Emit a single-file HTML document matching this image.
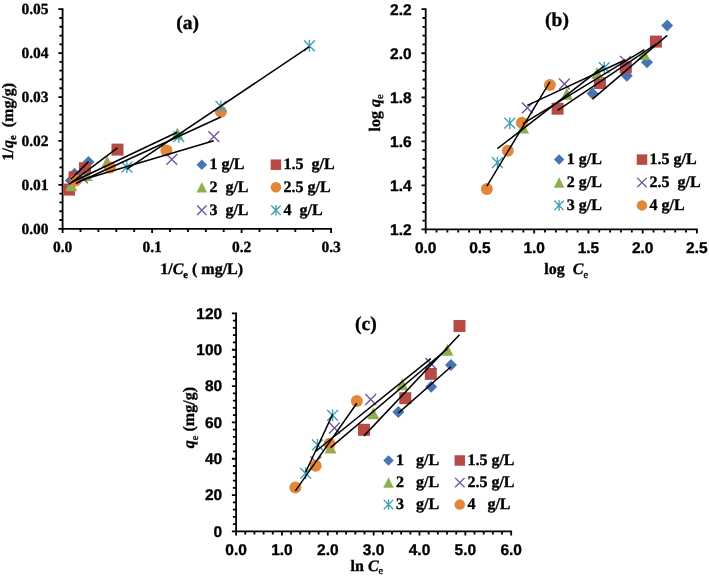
<!DOCTYPE html>
<html><head><meta charset="utf-8"><title>Isotherm plots</title>
<style>
html,body{margin:0;padding:0;background:#fff;}
body{width:709px;height:578px;overflow:hidden;}
svg{display:block;will-change:transform;text-rendering:geometricPrecision;}
</style></head>
<body>
<svg width="709" height="578" viewBox="0 0 709 578">
<rect width="709" height="578" fill="#fff"/>
<path d="M62.6 9.2V228.8M59.3 228.8H62.6M60.3 220.02H62.6M60.3 211.23H62.6M60.3 202.45H62.6M60.3 193.66H62.6M59.3 184.88H62.6M60.3 176.1H62.6M60.3 167.31H62.6M60.3 158.53H62.6M60.3 149.74H62.6M59.3 140.96H62.6M60.3 132.18H62.6M60.3 123.39H62.6M60.3 114.61H62.6M60.3 105.82H62.6M59.3 97.04H62.6M60.3 88.26H62.6M60.3 79.47H62.6M60.3 70.69H62.6M60.3 61.9H62.6M59.3 53.12H62.6M60.3 44.34H62.6M60.3 35.55H62.6M60.3 26.77H62.6M60.3 17.98H62.6M59.3 9.2H62.6M62.6 228.8H331.1M62.6 228.8V232.1M80.5 228.8V231.1M98.4 228.8V231.1M116.3 228.8V231.1M134.2 228.8V231.1M152.1 228.8V232.1M170 228.8V231.1M187.9 228.8V231.1M205.8 228.8V231.1M223.7 228.8V231.1M241.6 228.8V232.1M259.5 228.8V231.1M277.4 228.8V231.1M295.3 228.8V231.1M313.2 228.8V231.1M331.1 228.8V232.1" stroke="#000" stroke-width="1.8" fill="none" stroke-linecap="square"/>
<text x="48.6" y="234" font-family='"Liberation Serif", serif' font-size="15.5" font-weight="bold" text-anchor="end" stroke="#000" stroke-width="0.35" >0.00</text>
<text x="48.6" y="190.08" font-family='"Liberation Serif", serif' font-size="15.5" font-weight="bold" text-anchor="end" stroke="#000" stroke-width="0.35" >0.01</text>
<text x="48.6" y="146.16" font-family='"Liberation Serif", serif' font-size="15.5" font-weight="bold" text-anchor="end" stroke="#000" stroke-width="0.35" >0.02</text>
<text x="48.6" y="102.24" font-family='"Liberation Serif", serif' font-size="15.5" font-weight="bold" text-anchor="end" stroke="#000" stroke-width="0.35" >0.03</text>
<text x="48.6" y="58.32" font-family='"Liberation Serif", serif' font-size="15.5" font-weight="bold" text-anchor="end" stroke="#000" stroke-width="0.35" >0.04</text>
<text x="48.6" y="14.4" font-family='"Liberation Serif", serif' font-size="15.5" font-weight="bold" text-anchor="end" stroke="#000" stroke-width="0.35" >0.05</text>
<text x="62.6" y="252" font-family='"Liberation Serif", serif' font-size="15.5" font-weight="bold" text-anchor="middle" stroke="#000" stroke-width="0.35" >0.0</text>
<text x="152.1" y="252" font-family='"Liberation Serif", serif' font-size="15.5" font-weight="bold" text-anchor="middle" stroke="#000" stroke-width="0.35" >0.1</text>
<text x="241.6" y="252" font-family='"Liberation Serif", serif' font-size="15.5" font-weight="bold" text-anchor="middle" stroke="#000" stroke-width="0.35" >0.2</text>
<text x="331.1" y="252" font-family='"Liberation Serif", serif' font-size="15.5" font-weight="bold" text-anchor="middle" stroke="#000" stroke-width="0.35" >0.3</text>
<text x="187.7" y="28.6" font-family='"Liberation Serif", serif' font-size="19.5" font-weight="bold" text-anchor="middle" stroke="#000" stroke-width="0.35" >(a)</text>
<text x="160.2" y="274" font-family='"Liberation Serif", serif' font-size="16" font-weight="bold" text-anchor="start" stroke="#000" stroke-width="0.35" >1/<tspan font-style="italic">C</tspan><tspan font-size="10.5" dy="3.5">e</tspan><tspan dy="-3.5"> ( mg/L)</tspan></text>
<g transform="translate(12.6 121.6) rotate(-90)"><text x="0" y="0" font-family='"Liberation Serif", serif' font-size="16" font-weight="bold" text-anchor="middle" stroke="#000" stroke-width="0.35" xml:space="preserve">1/<tspan font-style="italic">q</tspan><tspan font-size="10.5" dy="3.5">e</tspan><tspan dy="-3.5">  (mg/g)</tspan></text></g>
<path d="M88.5 156L94.5 162L88.5 168L82.5 162Z" fill="#4675b2"/>
<path d="M74.5 167.8L80.5 173.8L74.5 179.8L68.5 173.8Z" fill="#4675b2"/>
<path d="M70.8 174.5L76.8 180.5L70.8 186.5L64.8 180.5Z" fill="#4675b2"/>
<rect x="111.5" y="143.6" width="12" height="12" fill="#b84a46"/>
<rect x="79" y="162.2" width="12" height="12" fill="#b84a46"/>
<rect x="68.6" y="171.2" width="12" height="12" fill="#b84a46"/>
<rect x="63" y="183.6" width="12" height="12" fill="#b84a46"/>
<path d="M177.3 127.6L183.3 139.6L171.3 139.6Z" fill="#8fae52"/>
<path d="M107.1 155.8L113.1 167.8L101.1 167.8Z" fill="#8fae52"/>
<path d="M86.6 169L92.6 181L80.6 181Z" fill="#8fae52"/>
<path d="M71.3 179.2L77.3 191.2L65.3 191.2Z" fill="#8fae52"/>
<circle cx="220.9" cy="111.8" r="6" fill="#e0873a"/>
<circle cx="166.4" cy="150.4" r="6" fill="#e0873a"/>
<circle cx="110" cy="167.6" r="6" fill="#e0873a"/>
<circle cx="75.8" cy="180.5" r="6" fill="#e0873a"/>
<path d="M208.4 131.3L219.2 142.1M219.2 131.3L208.4 142.1" stroke="#7052a0" stroke-width="1.35" fill="none"/>
<path d="M166.4 153.9L177.2 164.7M177.2 153.9L166.4 164.7" stroke="#7052a0" stroke-width="1.35" fill="none"/>
<path d="M77.1 172.4L87.9 183.2M87.9 172.4L77.1 183.2" stroke="#7052a0" stroke-width="1.35" fill="none"/>
<path d="M304 40.4L314.8 51.2M314.8 40.4L304 51.2M309.4 39.8L309.4 51.8" stroke="#3d9eb7" stroke-width="1.35" fill="none"/>
<path d="M215.5 101L226.3 111.8M226.3 101L215.5 111.8M220.9 100.4L220.9 112.4" stroke="#3d9eb7" stroke-width="1.35" fill="none"/>
<path d="M173.4 131.3L184.2 142.1M184.2 131.3L173.4 142.1M178.8 130.7L178.8 142.7" stroke="#3d9eb7" stroke-width="1.35" fill="none"/>
<path d="M121.5 161.7L132.3 172.5M132.3 161.7L121.5 172.5M126.9 161.1L126.9 173.1" stroke="#3d9eb7" stroke-width="1.35" fill="none"/>
<line x1="70.8" y1="179.16" x2="88.5" y2="161.65" stroke="#000" stroke-width="1.5"/>
<line x1="69" y1="184.3" x2="117.5" y2="147.92" stroke="#000" stroke-width="1.5"/>
<line x1="71.3" y1="182.5" x2="177.3" y2="132.3" stroke="#000" stroke-width="1.5"/>
<line x1="75.8" y1="183.49" x2="220.9" y2="117.01" stroke="#000" stroke-width="1.5"/>
<line x1="82.5" y1="179.73" x2="213.8" y2="140.81" stroke="#000" stroke-width="1.5"/>
<line x1="126.9" y1="169.04" x2="309.4" y2="46.69" stroke="#000" stroke-width="1.5"/>
<path d="M201.8 159.45L207.05 164.7L201.8 169.95L196.55 164.7Z" fill="#4675b2"/>
<text x="209.4" y="169.1" font-family='"Liberation Serif", serif' font-size="16" font-weight="bold" text-anchor="start" stroke="#000" stroke-width="0.35" xml:space="preserve">1 g/L</text>
<rect x="270.65" y="159.45" width="10.5" height="10.5" fill="#b84a46"/>
<text x="283.5" y="169.1" font-family='"Liberation Serif", serif' font-size="16" font-weight="bold" text-anchor="start" stroke="#000" stroke-width="0.35" xml:space="preserve">1.5  g/L</text>
<path d="M201.8 182.05L207.05 192.55L196.55 192.55Z" fill="#8fae52"/>
<text x="209.4" y="191.7" font-family='"Liberation Serif", serif' font-size="16" font-weight="bold" text-anchor="start" stroke="#000" stroke-width="0.35" xml:space="preserve">2  g/L</text>
<circle cx="275.9" cy="187.3" r="5.25" fill="#e0873a"/>
<text x="283.5" y="191.7" font-family='"Liberation Serif", serif' font-size="16" font-weight="bold" text-anchor="start" stroke="#000" stroke-width="0.35" xml:space="preserve">2.5 g/L</text>
<path d="M197.08 205.47L206.53 214.92M206.53 205.47L197.08 214.92" stroke="#7052a0" stroke-width="1.35" fill="none"/>
<text x="209.4" y="214.6" font-family='"Liberation Serif", serif' font-size="16" font-weight="bold" text-anchor="start" stroke="#000" stroke-width="0.35" xml:space="preserve">3  g/L</text>
<path d="M271.17 205.47L280.62 214.92M280.62 205.47L271.17 214.92M275.9 204.95L275.9 215.45" stroke="#3d9eb7" stroke-width="1.35" fill="none"/>
<text x="283.5" y="214.6" font-family='"Liberation Serif", serif' font-size="16" font-weight="bold" text-anchor="start" stroke="#000" stroke-width="0.35" xml:space="preserve">4  g/L</text>
<path d="M425.7 9.2V229.4M422.4 229.4H425.7M423.4 220.59H425.7M423.4 211.78H425.7M423.4 202.98H425.7M423.4 194.17H425.7M422.4 185.36H425.7M423.4 176.55H425.7M423.4 167.74H425.7M423.4 158.94H425.7M423.4 150.13H425.7M422.4 141.32H425.7M423.4 132.51H425.7M423.4 123.7H425.7M423.4 114.9H425.7M423.4 106.09H425.7M422.4 97.28H425.7M423.4 88.47H425.7M423.4 79.66H425.7M423.4 70.86H425.7M423.4 62.05H425.7M422.4 53.24H425.7M423.4 44.43H425.7M423.4 35.62H425.7M423.4 26.82H425.7M423.4 18.01H425.7M422.4 9.2H425.7M425.7 229.4H696.9M425.7 229.4V232.7M436.55 229.4V231.7M447.4 229.4V231.7M458.24 229.4V231.7M469.09 229.4V231.7M479.94 229.4V232.7M490.79 229.4V231.7M501.64 229.4V231.7M512.48 229.4V231.7M523.33 229.4V231.7M534.18 229.4V232.7M545.03 229.4V231.7M555.88 229.4V231.7M566.72 229.4V231.7M577.57 229.4V231.7M588.42 229.4V232.7M599.27 229.4V231.7M610.12 229.4V231.7M620.96 229.4V231.7M631.81 229.4V231.7M642.66 229.4V232.7M653.51 229.4V231.7M664.36 229.4V231.7M675.2 229.4V231.7M686.05 229.4V231.7M696.9 229.4V232.7" stroke="#000" stroke-width="1.8" fill="none" stroke-linecap="square"/>
<text x="411.6" y="234.8" font-family='"Liberation Sans", sans-serif' font-size="15.5" font-weight="bold" text-anchor="end" stroke="#000" stroke-width="0.35" >1.2</text>
<text x="411.6" y="190.76" font-family='"Liberation Sans", sans-serif' font-size="15.5" font-weight="bold" text-anchor="end" stroke="#000" stroke-width="0.35" >1.4</text>
<text x="411.6" y="146.72" font-family='"Liberation Sans", sans-serif' font-size="15.5" font-weight="bold" text-anchor="end" stroke="#000" stroke-width="0.35" >1.6</text>
<text x="411.6" y="102.68" font-family='"Liberation Sans", sans-serif' font-size="15.5" font-weight="bold" text-anchor="end" stroke="#000" stroke-width="0.35" >1.8</text>
<text x="411.6" y="58.64" font-family='"Liberation Sans", sans-serif' font-size="15.5" font-weight="bold" text-anchor="end" stroke="#000" stroke-width="0.35" >2.0</text>
<text x="411.6" y="14.6" font-family='"Liberation Sans", sans-serif' font-size="15.5" font-weight="bold" text-anchor="end" stroke="#000" stroke-width="0.35" >2.2</text>
<text x="425.7" y="252.8" font-family='"Liberation Sans", sans-serif' font-size="15.5" font-weight="bold" text-anchor="middle" stroke="#000" stroke-width="0.35" >0.0</text>
<text x="479.94" y="252.8" font-family='"Liberation Sans", sans-serif' font-size="15.5" font-weight="bold" text-anchor="middle" stroke="#000" stroke-width="0.35" >0.5</text>
<text x="534.18" y="252.8" font-family='"Liberation Sans", sans-serif' font-size="15.5" font-weight="bold" text-anchor="middle" stroke="#000" stroke-width="0.35" >1.0</text>
<text x="588.42" y="252.8" font-family='"Liberation Sans", sans-serif' font-size="15.5" font-weight="bold" text-anchor="middle" stroke="#000" stroke-width="0.35" >1.5</text>
<text x="642.66" y="252.8" font-family='"Liberation Sans", sans-serif' font-size="15.5" font-weight="bold" text-anchor="middle" stroke="#000" stroke-width="0.35" >2.0</text>
<text x="696.9" y="252.8" font-family='"Liberation Sans", sans-serif' font-size="15.5" font-weight="bold" text-anchor="middle" stroke="#000" stroke-width="0.35" >2.5</text>
<text x="557" y="26.3" font-family='"Liberation Serif", serif' font-size="19.5" font-weight="bold" text-anchor="middle" stroke="#000" stroke-width="0.35" >(b)</text>
<text x="544.3" y="274.1" font-family='"Liberation Serif", serif' font-size="16" font-weight="bold" text-anchor="start" stroke="#000" stroke-width="0.35" xml:space="preserve">log  <tspan font-style="italic">C</tspan><tspan font-size="10.5" dy="3.5" font-weight="normal">e</tspan></text>
<g transform="translate(379.6 113) rotate(-90)"><text x="0" y="0" font-family='"Liberation Serif", serif' font-size="16" font-weight="bold" text-anchor="middle" stroke="#000" stroke-width="0.35" xml:space="preserve">log <tspan font-style="italic">q</tspan><tspan font-size="10.5" dy="3.5" font-weight="normal">e</tspan></text></g>
<path d="M592.5 87.4L598.5 93.4L592.5 99.4L586.5 93.4Z" fill="#4675b2"/>
<path d="M626.8 69.7L632.8 75.7L626.8 81.7L620.8 75.7Z" fill="#4675b2"/>
<path d="M647 56.3L653 62.3L647 68.3L641 62.3Z" fill="#4675b2"/>
<path d="M667.2 19.6L673.2 25.6L667.2 31.6L661.2 25.6Z" fill="#4675b2"/>
<rect x="551.6" y="102.7" width="12" height="12" fill="#b84a46"/>
<rect x="593.9" y="77" width="12" height="12" fill="#b84a46"/>
<rect x="619.8" y="61.3" width="12" height="12" fill="#b84a46"/>
<rect x="649.9" y="35.6" width="12" height="12" fill="#b84a46"/>
<path d="M523 121.5L529 133.5L517 133.5Z" fill="#8fae52"/>
<path d="M566.8 87.8L572.8 99.8L560.8 99.8Z" fill="#8fae52"/>
<path d="M597.2 67.1L603.2 79.1L591.2 79.1Z" fill="#8fae52"/>
<path d="M644 48.1L650 60.1L638 60.1Z" fill="#8fae52"/>
<path d="M521.9 102.5L532.7 113.3M532.7 102.5L521.9 113.3" stroke="#7052a0" stroke-width="1.35" fill="none"/>
<path d="M559 78.6L569.8 89.4M569.8 78.6L559 89.4" stroke="#7052a0" stroke-width="1.35" fill="none"/>
<path d="M620.1 55.9L630.9 66.7M630.9 55.9L620.1 66.7" stroke="#7052a0" stroke-width="1.35" fill="none"/>
<path d="M492 157.3L502.8 168.1M502.8 157.3L492 168.1M497.4 156.7L497.4 168.7" stroke="#3d9eb7" stroke-width="1.35" fill="none"/>
<path d="M504.4 117.8L515.2 128.6M515.2 117.8L504.4 128.6M509.8 117.2L509.8 129.2" stroke="#3d9eb7" stroke-width="1.35" fill="none"/>
<path d="M598.9 62.3L609.7 73.1M609.7 62.3L598.9 73.1M604.3 61.7L604.3 73.7" stroke="#3d9eb7" stroke-width="1.35" fill="none"/>
<circle cx="486.9" cy="189" r="6" fill="#e0873a"/>
<circle cx="507.8" cy="150.8" r="6" fill="#e0873a"/>
<circle cx="521.9" cy="122.8" r="6" fill="#e0873a"/>
<circle cx="549.9" cy="85" r="6" fill="#e0873a"/>
<line x1="592.5" y1="99.17" x2="667.2" y2="35.35" stroke="#000" stroke-width="1.5"/>
<line x1="557.6" y1="110.27" x2="655.9" y2="44.13" stroke="#000" stroke-width="1.5"/>
<line x1="523" y1="123.54" x2="644" y2="49.8" stroke="#000" stroke-width="1.5"/>
<line x1="527.3" y1="105.34" x2="625.5" y2="59.75" stroke="#000" stroke-width="1.5"/>
<line x1="497.4" y1="148.67" x2="604.3" y2="65.86" stroke="#000" stroke-width="1.5"/>
<line x1="486.9" y1="186.14" x2="549.9" y2="81.78" stroke="#000" stroke-width="1.5"/>
<path d="M559.1 154.35L564.35 159.6L559.1 164.85L553.85 159.6Z" fill="#4675b2"/>
<text x="566.7" y="164" font-family='"Liberation Serif", serif' font-size="16" font-weight="bold" text-anchor="start" stroke="#000" stroke-width="0.35" xml:space="preserve">1 g/L</text>
<rect x="636.75" y="154.35" width="10.5" height="10.5" fill="#b84a46"/>
<text x="649.6" y="164" font-family='"Liberation Serif", serif' font-size="16" font-weight="bold" text-anchor="start" stroke="#000" stroke-width="0.35" xml:space="preserve">1.5 g/L</text>
<path d="M559.1 177.35L564.35 187.85L553.85 187.85Z" fill="#8fae52"/>
<text x="566.7" y="187" font-family='"Liberation Serif", serif' font-size="16" font-weight="bold" text-anchor="start" stroke="#000" stroke-width="0.35" xml:space="preserve">2 g/L</text>
<path d="M637.27 177.88L646.73 187.32M646.73 177.88L637.27 187.32" stroke="#7052a0" stroke-width="1.35" fill="none"/>
<text x="649.6" y="187" font-family='"Liberation Serif", serif' font-size="16" font-weight="bold" text-anchor="start" stroke="#000" stroke-width="0.35" xml:space="preserve">2.5  g/L</text>
<path d="M554.38 200.68L563.83 210.12M563.83 200.68L554.38 210.12M559.1 200.15L559.1 210.65" stroke="#3d9eb7" stroke-width="1.35" fill="none"/>
<text x="566.7" y="209.8" font-family='"Liberation Serif", serif' font-size="16" font-weight="bold" text-anchor="start" stroke="#000" stroke-width="0.35" xml:space="preserve">3 g/L</text>
<circle cx="642" cy="205.4" r="5.25" fill="#e0873a"/>
<text x="649.6" y="209.8" font-family='"Liberation Serif", serif' font-size="16" font-weight="bold" text-anchor="start" stroke="#000" stroke-width="0.35" xml:space="preserve">4 g/L</text>
<path d="M236.1 313.4V531.4M232.8 531.4H236.1M233.8 524.13H236.1M233.8 516.87H236.1M233.8 509.6H236.1M233.8 502.33H236.1M232.8 495.07H236.1M233.8 487.8H236.1M233.8 480.53H236.1M233.8 473.27H236.1M233.8 466H236.1M232.8 458.73H236.1M233.8 451.47H236.1M233.8 444.2H236.1M233.8 436.93H236.1M233.8 429.67H236.1M232.8 422.4H236.1M233.8 415.13H236.1M233.8 407.87H236.1M233.8 400.6H236.1M233.8 393.33H236.1M232.8 386.07H236.1M233.8 378.8H236.1M233.8 371.53H236.1M233.8 364.27H236.1M233.8 357H236.1M232.8 349.73H236.1M233.8 342.47H236.1M233.8 335.2H236.1M233.8 327.93H236.1M233.8 320.67H236.1M232.8 313.4H236.1M236.1 531.4H511.2M236.1 531.4V534.7M245.27 531.4V533.7M254.44 531.4V533.7M263.61 531.4V533.7M272.78 531.4V533.7M281.95 531.4V534.7M291.12 531.4V533.7M300.29 531.4V533.7M309.46 531.4V533.7M318.63 531.4V533.7M327.8 531.4V534.7M336.97 531.4V533.7M346.14 531.4V533.7M355.31 531.4V533.7M364.48 531.4V533.7M373.65 531.4V534.7M382.82 531.4V533.7M391.99 531.4V533.7M401.16 531.4V533.7M410.33 531.4V533.7M419.5 531.4V534.7M428.67 531.4V533.7M437.84 531.4V533.7M447.01 531.4V533.7M456.18 531.4V533.7M465.35 531.4V534.7M474.52 531.4V533.7M483.69 531.4V533.7M492.86 531.4V533.7M502.03 531.4V533.7M511.2 531.4V534.7" stroke="#000" stroke-width="1.8" fill="none" stroke-linecap="square"/>
<text x="222.2" y="536.5" font-family='"Liberation Sans", sans-serif' font-size="15.5" font-weight="bold" text-anchor="end" stroke="#000" stroke-width="0.35" >0</text>
<text x="222.2" y="500.17" font-family='"Liberation Sans", sans-serif' font-size="15.5" font-weight="bold" text-anchor="end" stroke="#000" stroke-width="0.35" >20</text>
<text x="222.2" y="463.83" font-family='"Liberation Sans", sans-serif' font-size="15.5" font-weight="bold" text-anchor="end" stroke="#000" stroke-width="0.35" >40</text>
<text x="222.2" y="427.5" font-family='"Liberation Sans", sans-serif' font-size="15.5" font-weight="bold" text-anchor="end" stroke="#000" stroke-width="0.35" >60</text>
<text x="222.2" y="391.17" font-family='"Liberation Sans", sans-serif' font-size="15.5" font-weight="bold" text-anchor="end" stroke="#000" stroke-width="0.35" >80</text>
<text x="222.2" y="354.83" font-family='"Liberation Sans", sans-serif' font-size="15.5" font-weight="bold" text-anchor="end" stroke="#000" stroke-width="0.35" >100</text>
<text x="222.2" y="318.5" font-family='"Liberation Sans", sans-serif' font-size="15.5" font-weight="bold" text-anchor="end" stroke="#000" stroke-width="0.35" >120</text>
<text x="236.1" y="555.2" font-family='"Liberation Sans", sans-serif' font-size="15.5" font-weight="bold" text-anchor="middle" stroke="#000" stroke-width="0.35" >0.0</text>
<text x="281.95" y="555.2" font-family='"Liberation Sans", sans-serif' font-size="15.5" font-weight="bold" text-anchor="middle" stroke="#000" stroke-width="0.35" >1.0</text>
<text x="327.8" y="555.2" font-family='"Liberation Sans", sans-serif' font-size="15.5" font-weight="bold" text-anchor="middle" stroke="#000" stroke-width="0.35" >2.0</text>
<text x="373.65" y="555.2" font-family='"Liberation Sans", sans-serif' font-size="15.5" font-weight="bold" text-anchor="middle" stroke="#000" stroke-width="0.35" >3.0</text>
<text x="419.5" y="555.2" font-family='"Liberation Sans", sans-serif' font-size="15.5" font-weight="bold" text-anchor="middle" stroke="#000" stroke-width="0.35" >4.0</text>
<text x="465.35" y="555.2" font-family='"Liberation Sans", sans-serif' font-size="15.5" font-weight="bold" text-anchor="middle" stroke="#000" stroke-width="0.35" >5.0</text>
<text x="511.2" y="555.2" font-family='"Liberation Sans", sans-serif' font-size="15.5" font-weight="bold" text-anchor="middle" stroke="#000" stroke-width="0.35" >6.0</text>
<text x="365.9" y="329.5" font-family='"Liberation Serif", serif' font-size="19.5" font-weight="bold" text-anchor="middle" stroke="#000" stroke-width="0.35" >(c)</text>
<text x="350.6" y="570.7" font-family='"Liberation Serif", serif' font-size="16" font-weight="bold" text-anchor="start" stroke="#000" stroke-width="0.35" xml:space="preserve">ln <tspan font-style="italic">C</tspan><tspan font-size="10.5" dy="3.5" font-weight="normal">e</tspan></text>
<g transform="translate(194.3 417.6) rotate(-90)"><text x="0" y="0" font-family='"Liberation Serif", serif' font-size="16" font-weight="bold" text-anchor="middle" stroke="#000" stroke-width="0.35" xml:space="preserve"><tspan font-style="italic">q</tspan><tspan font-size="10.5" dy="3.5" font-weight="normal">e</tspan><tspan dy="-3.5"> (mg/g)</tspan></text></g>
<path d="M398.3 406.1L404.3 412.1L398.3 418.1L392.3 412.1Z" fill="#4675b2"/>
<path d="M431.2 380.8L437.2 386.8L431.2 392.8L425.2 386.8Z" fill="#4675b2"/>
<path d="M451 359.1L457 365.1L451 371.1L445 365.1Z" fill="#4675b2"/>
<rect x="358" y="423.8" width="12" height="12" fill="#b84a46"/>
<rect x="399.3" y="392.2" width="12" height="12" fill="#b84a46"/>
<rect x="424.8" y="367.9" width="12" height="12" fill="#b84a46"/>
<rect x="453.5" y="320" width="12" height="12" fill="#b84a46"/>
<path d="M330.5 441.6L336.5 453.6L324.5 453.6Z" fill="#8fae52"/>
<path d="M373.3 407.2L379.3 419.2L367.3 419.2Z" fill="#8fae52"/>
<path d="M402.3 378.2L408.3 390.2L396.3 390.2Z" fill="#8fae52"/>
<path d="M447.4 343.8L453.4 355.8L441.4 355.8Z" fill="#8fae52"/>
<path d="M310.4 456.6L321.2 467.4M321.2 456.6L310.4 467.4" stroke="#7052a0" stroke-width="1.35" fill="none"/>
<path d="M329.1 422.6L339.9 433.4M339.9 422.6L329.1 433.4" stroke="#7052a0" stroke-width="1.35" fill="none"/>
<path d="M365.3 394.1L376.1 404.9M376.1 394.1L365.3 404.9" stroke="#7052a0" stroke-width="1.35" fill="none"/>
<path d="M425.4 358.1L436.2 368.9M436.2 358.1L425.4 368.9" stroke="#7052a0" stroke-width="1.35" fill="none"/>
<path d="M300.2 467.9L311 478.7M311 467.9L300.2 478.7M305.6 467.3L305.6 479.3" stroke="#3d9eb7" stroke-width="1.35" fill="none"/>
<path d="M312.1 439.4L322.9 450.2M322.9 439.4L312.1 450.2M317.5 438.8L317.5 450.8" stroke="#3d9eb7" stroke-width="1.35" fill="none"/>
<path d="M327.2 409.9L338 420.7M338 409.9L327.2 420.7M332.6 409.3L332.6 421.3" stroke="#3d9eb7" stroke-width="1.35" fill="none"/>
<circle cx="295.4" cy="487.5" r="6" fill="#e0873a"/>
<circle cx="315.6" cy="465.8" r="6" fill="#e0873a"/>
<circle cx="329.6" cy="443.8" r="6" fill="#e0873a"/>
<circle cx="356.8" cy="401" r="6" fill="#e0873a"/>
<line x1="398.3" y1="413.09" x2="451" y2="366.75" stroke="#000" stroke-width="1.5"/>
<line x1="364" y1="435.87" x2="459.5" y2="334.75" stroke="#000" stroke-width="1.5"/>
<line x1="330.5" y1="447.66" x2="447.4" y2="348.77" stroke="#000" stroke-width="1.5"/>
<line x1="315.8" y1="451.24" x2="430.8" y2="358.59" stroke="#000" stroke-width="1.5"/>
<line x1="305.6" y1="472.21" x2="332.6" y2="414.44" stroke="#000" stroke-width="1.5"/>
<line x1="295.4" y1="490.83" x2="356.8" y2="403.23" stroke="#000" stroke-width="1.5"/>
<path d="M388.5 455.25L393.75 460.5L388.5 465.75L383.25 460.5Z" fill="#4675b2"/>
<text x="396.1" y="464.9" font-family='"Liberation Serif", serif' font-size="16" font-weight="bold" text-anchor="start" stroke="#000" stroke-width="0.35" xml:space="preserve">1   g/L</text>
<rect x="454.55" y="455.25" width="10.5" height="10.5" fill="#b84a46"/>
<text x="467.4" y="464.9" font-family='"Liberation Serif", serif' font-size="16" font-weight="bold" text-anchor="start" stroke="#000" stroke-width="0.35" xml:space="preserve">1.5 g/L</text>
<path d="M388.5 477.35L393.75 487.85L383.25 487.85Z" fill="#8fae52"/>
<text x="396.1" y="487" font-family='"Liberation Serif", serif' font-size="16" font-weight="bold" text-anchor="start" stroke="#000" stroke-width="0.35" xml:space="preserve">2   g/L</text>
<path d="M455.07 477.88L464.53 487.33M464.53 477.88L455.07 487.33" stroke="#7052a0" stroke-width="1.35" fill="none"/>
<text x="467.4" y="487" font-family='"Liberation Serif", serif' font-size="16" font-weight="bold" text-anchor="start" stroke="#000" stroke-width="0.35" xml:space="preserve">2.5 g/L</text>
<path d="M383.77 499.88L393.23 509.33M393.23 499.88L383.77 509.33M388.5 499.35L388.5 509.85" stroke="#3d9eb7" stroke-width="1.35" fill="none"/>
<text x="396.1" y="509" font-family='"Liberation Serif", serif' font-size="16" font-weight="bold" text-anchor="start" stroke="#000" stroke-width="0.35" xml:space="preserve">3   g/L</text>
<circle cx="459.8" cy="504.6" r="5.25" fill="#e0873a"/>
<text x="467.4" y="509" font-family='"Liberation Serif", serif' font-size="16" font-weight="bold" text-anchor="start" stroke="#000" stroke-width="0.35" xml:space="preserve">4   g/L</text>
</svg>
</body></html>
